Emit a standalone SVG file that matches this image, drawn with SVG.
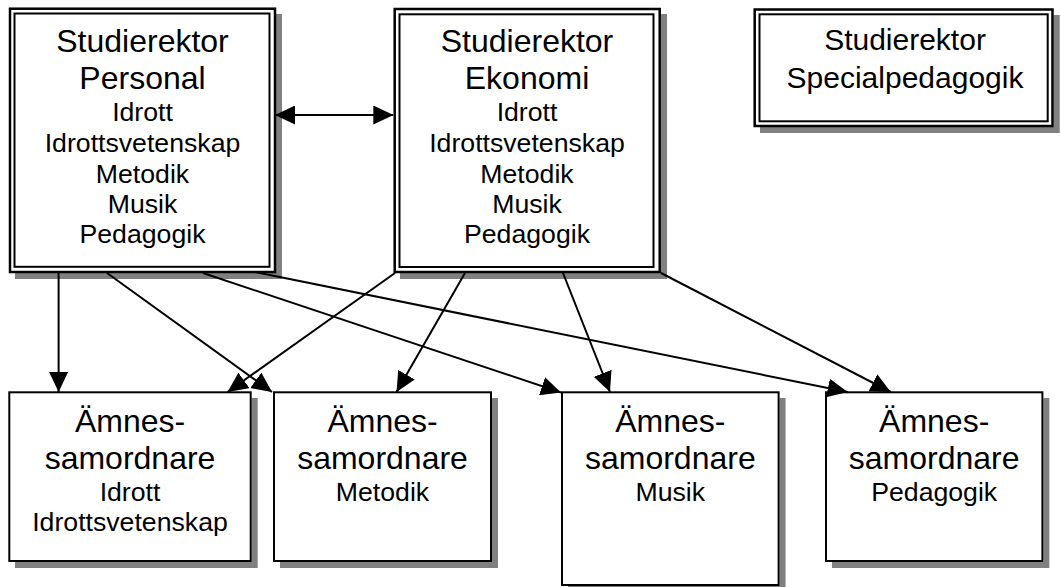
<svg xmlns="http://www.w3.org/2000/svg" width="1061" height="587" viewBox="0 0 1061 587">
<defs>
<marker id="ah" markerUnits="userSpaceOnUse" markerWidth="20" markerHeight="19" refX="20" refY="9.5" orient="auto"><path d="M0,0 L20,9.5 L0,19 z" fill="#000"/></marker>
<marker id="ahs" markerUnits="userSpaceOnUse" markerWidth="20" markerHeight="19" refX="20" refY="9.5" orient="auto-start-reverse"><path d="M0,0 L20,9.5 L0,19 z" fill="#000"/></marker>
</defs>
<style>
.shd{fill:#808080;stroke:none}
.outer{fill:#fff;stroke:#000;stroke-width:2.5}
.inner{fill:none;stroke:#000;stroke-width:2}
.box{fill:#fff;stroke:#000;stroke-width:2}
text{font-family:"Liberation Sans",Arial,sans-serif;fill:#000;text-anchor:middle}
.big{font-size:32px}
.mid{font-size:30px}
.small{font-size:26.67px}
.conn{stroke:#000;stroke-width:2;fill:none;marker-end:url(#ah)}
.bidir{stroke:#000;stroke-width:2;fill:none;marker-end:url(#ahs);marker-start:url(#ahs)}
</style>
<rect x="0" y="0" width="1061" height="587" style="fill:#ffffff"/>
<g id="sr-personal">
<path class="shd" d="M276,14 H282 V279 H15 V273 H276 Z"/>
<rect class="outer" x="10" y="8.7" width="265" height="263.3"/>
<rect class="inner" x="14.5" y="13.5" width="255" height="253.3"/>
<text class="big" x="142.5" y="52">Studierektor</text>
<text class="big" x="142.5" y="89">Personal</text>
<text class="small" x="142.5" y="121">Idrott</text>
<text class="small" x="142.5" y="152">Idrottsvetenskap</text>
<text class="small" x="142.5" y="183">Metodik</text>
<text class="small" x="142.5" y="213">Musik</text>
<text class="small" x="142.5" y="242.5">Pedagogik</text>
</g>
<g id="sr-ekonomi">
<path class="shd" d="M661,14 H667 V279 H400 V273 H661 Z"/>
<rect class="outer" x="394.7" y="9" width="265" height="263"/>
<rect class="inner" x="399.5" y="14.3" width="254" height="252.7"/>
<text class="big" x="527" y="52">Studierektor</text>
<text class="big" x="527" y="89">Ekonomi</text>
<text class="small" x="527" y="121">Idrott</text>
<text class="small" x="527" y="152">Idrottsvetenskap</text>
<text class="small" x="527" y="183">Metodik</text>
<text class="small" x="527" y="213">Musik</text>
<text class="small" x="527" y="242.5">Pedagogik</text>
</g>
<g id="sr-special">
<path class="shd" d="M1053.7,15 H1059.7 V133 H760 V127 H1053.7 Z"/>
<rect class="outer" x="754.7" y="9.5" width="297.8" height="116.5"/>
<rect class="inner" x="759.5" y="14.3" width="288.2" height="107"/>
<text class="mid" x="905" y="50">Studierektor</text>
<text class="mid" x="905" y="88">Specialpedagogik</text>
</g>
<g id="as-idrott">
<path class="shd" d="M251.7,398 H257.7 V568 H15 V562 H251.7 Z"/>
<rect class="box" x="9.3" y="392.3" width="241.4" height="168.7"/>
<text class="big" x="130" y="432.3">Ämnes-</text>
<text class="big" x="130" y="469">samordnare</text>
<text class="small" x="130" y="500.7">Idrott</text>
<text class="small" x="130" y="530.7">Idrottsvetenskap</text>
</g>
<g id="as-metodik">
<path class="shd" d="M492,398 H498 V568 H280 V562 H492 Z"/>
<rect class="box" x="274" y="392.3" width="217" height="168.7"/>
<text class="big" x="382.5" y="432.3">Ämnes-</text>
<text class="big" x="382.5" y="469">samordnare</text>
<text class="small" x="382.5" y="500.7">Metodik</text>
</g>
<g id="as-musik">
<path class="shd" d="M779.6,398 H785.6 V592 H568 V586 H779.6 Z"/>
<rect class="box" x="562" y="392.3" width="216.6" height="192.7"/>
<text class="big" x="670.3" y="432.3">Ämnes-</text>
<text class="big" x="670.3" y="469">samordnare</text>
<text class="small" x="670.3" y="500.7">Musik</text>
</g>
<g id="as-pedagogik">
<path class="shd" d="M1043.4,398 H1049.4 V568 H832 V562 H1043.4 Z"/>
<rect class="box" x="826" y="392.3" width="216.4" height="168.7"/>
<text class="big" x="934.2" y="432.3">Ämnes-</text>
<text class="big" x="934.2" y="469">samordnare</text>
<text class="small" x="934.2" y="500.7">Pedagogik</text>
</g>
<g id="connectors">
<path class="bidir" d="M275,115 L393.3,115"/>
<path class="conn" d="M58.6,272 L58.6,392"/>
<path class="conn" d="M107,273 L272,392"/>
<path class="conn" d="M395,273 L227.6,392"/>
<path class="conn" d="M203,273 L561,392.5"/>
<path class="conn" d="M255,272 L847.6,392"/>
<path class="conn" d="M465,273 L396.5,392"/>
<path class="conn" d="M563,273 L610,392"/>
<path class="conn" d="M661,273 L890.7,392"/>
</g>
</svg>
